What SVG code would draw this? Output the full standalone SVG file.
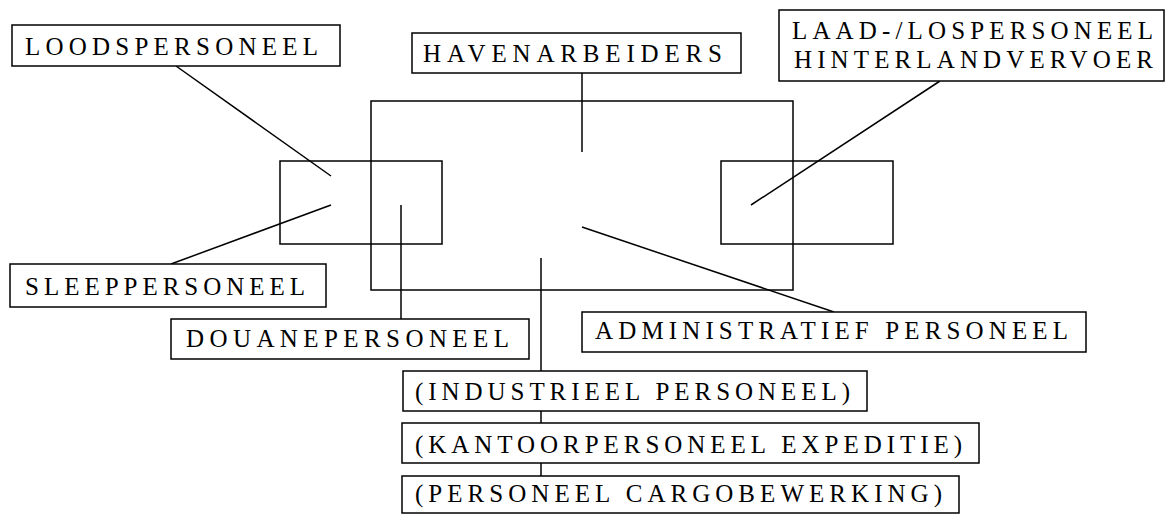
<svg xmlns="http://www.w3.org/2000/svg" width="1168" height="514" viewBox="0 0 1168 514">
  <style>
    .box { fill: #ffffff; stroke: #000000; stroke-width: 1.5; }
    .area { fill: none; stroke: #000000; stroke-width: 1.5; }
    .lbl { font-family: "Liberation Serif", "Times New Roman", serif; font-size: 25px; fill: #000000; }
    .con line { stroke: #000000; stroke-width: 1.5; }
  </style>
  <rect width="1168" height="514" fill="#ffffff"/>

  <!-- port areas: main basin and two side quays -->
  <g id="areas">
    <rect class="area" x="371" y="101" width="422" height="189"/>
    <rect class="area" x="280" y="161" width="162" height="83"/>
    <rect class="area" x="721" y="161" width="172" height="83"/>
  </g>

  <!-- leader lines from labels into the areas -->
  <g id="connectors" class="con">
    <line x1="176" y1="66" x2="331" y2="176"/>
    <line x1="171" y1="264" x2="331" y2="205"/>
    <line x1="401" y1="205" x2="401" y2="319"/>
    <line x1="582" y1="73" x2="582" y2="152"/>
    <line x1="940" y1="81" x2="751" y2="205"/>
    <line x1="582" y1="227" x2="834" y2="312"/>
    <line x1="541" y1="258" x2="541" y2="371"/>
    <line x1="541" y1="411" x2="541" y2="423"/>
    <line x1="541" y1="463" x2="541" y2="476"/>
  </g>

  <g id="loodspersoneel">
    <rect class="box" x="12" y="25" width="328" height="41"/>
    <text class="lbl" x="25" y="55" textLength="293" lengthAdjust="spacing">LOODSPERSONEEL</text>
  </g>

  <g id="havenarbeiders">
    <rect class="box" x="412" y="33" width="329" height="40"/>
    <text class="lbl" x="423" y="62" textLength="299" lengthAdjust="spacing">HAVENARBEIDERS</text>
  </g>

  <g id="laad-lospersoneel">
    <rect class="box" x="779" y="10" width="385" height="71"/>
    <text class="lbl" x="792" y="39" textLength="361" lengthAdjust="spacing">LAAD-/LOSPERSONEEL</text>
    <text class="lbl" x="794" y="68" textLength="359" lengthAdjust="spacing">HINTERLANDVERVOER</text>
  </g>

  <g id="sleeppersoneel">
    <rect class="box" x="10" y="264" width="316" height="43"/>
    <text class="lbl" x="25" y="295" textLength="280" lengthAdjust="spacing">SLEEPPERSONEEL</text>
  </g>

  <g id="douanepersoneel">
    <rect class="box" x="171" y="319" width="358" height="40"/>
    <text class="lbl" x="186" y="347" textLength="323" lengthAdjust="spacing">DOUANEPERSONEEL</text>
  </g>

  <g id="administratief-personeel">
    <rect class="box" x="582" y="312" width="504" height="40"/>
    <text class="lbl" x="595" y="339" textLength="473" lengthAdjust="spacing">ADMINISTRATIEF PERSONEEL</text>
  </g>

  <g id="industrieel-personeel">
    <rect class="box" x="403" y="371" width="464" height="40"/>
    <text class="lbl" x="415" y="400" textLength="435" lengthAdjust="spacing">(INDUSTRIEEL PERSONEEL)</text>
  </g>

  <g id="kantoorpersoneel-expeditie">
    <rect class="box" x="402" y="423" width="577" height="40"/>
    <text class="lbl" x="415" y="453" textLength="547" lengthAdjust="spacing">(KANTOORPERSONEEL EXPEDITIE)</text>
  </g>

  <g id="personeel-cargobewerking">
    <rect class="box" x="402" y="476" width="557" height="37"/>
    <text class="lbl" x="415" y="502" textLength="527" lengthAdjust="spacing">(PERSONEEL CARGOBEWERKING)</text>
  </g>
</svg>
